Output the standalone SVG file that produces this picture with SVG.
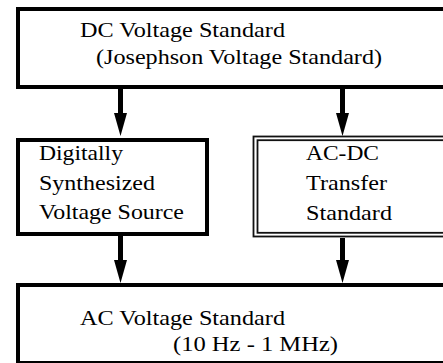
<svg xmlns="http://www.w3.org/2000/svg" width="443" height="363" viewBox="0 0 443 363">
<defs>
<marker id="ah" viewBox="0 0 23 13" refX="1" refY="6.5" markerWidth="23" markerHeight="13" markerUnits="userSpaceOnUse" orient="auto">
<path d="M0,0 L23,6.5 L0,13 z" fill="#000"/>
</marker>
<style>
.box{fill:#fff;stroke:#000;stroke-width:4}
.dbl{fill:none;stroke:#111;stroke-width:1.8}
.t{font-family:"Liberation Serif","Times New Roman",serif;font-size:21px;fill:#000}
.c{stroke:#000;stroke-width:5;fill:none;marker-end:url(#ah)}
</style>
</defs>
<rect width="443" height="363" fill="#fff"/>
<g id="dc-standard">
<rect class="box" x="18" y="9" width="460" height="78"/>
<text class="t" x="80" y="37" textLength="205" lengthAdjust="spacingAndGlyphs">DC Voltage Standard</text>
<text class="t" x="96" y="64" textLength="286" lengthAdjust="spacingAndGlyphs">(Josephson Voltage Standard)</text>
</g>
<g id="dsvs">
<rect class="box" x="18" y="140" width="189" height="94"/>
<text class="t" x="39" y="160" textLength="84" lengthAdjust="spacingAndGlyphs">Digitally</text>
<text class="t" x="39" y="190" textLength="116" lengthAdjust="spacingAndGlyphs">Synthesized</text>
<text class="t" x="39" y="219" textLength="145" lengthAdjust="spacingAndGlyphs">Voltage Source</text>
</g>
<g id="acdc-transfer">
<rect class="dbl" x="253.5" y="136.5" width="220" height="100"/>
<rect class="dbl" x="257.5" y="140.2" width="220" height="92.6"/>
<text class="t" x="306" y="160" textLength="73" lengthAdjust="spacingAndGlyphs">AC-DC</text>
<text class="t" x="306" y="190" textLength="81" lengthAdjust="spacingAndGlyphs">Transfer</text>
<text class="t" x="306" y="220" textLength="86" lengthAdjust="spacingAndGlyphs">Standard</text>
</g>
<g id="ac-standard">
<rect class="box" x="18" y="285" width="460" height="78"/>
<text class="t" x="80" y="325" textLength="205" lengthAdjust="spacingAndGlyphs">AC Voltage Standard</text>
<text class="t" x="173" y="351" textLength="165" lengthAdjust="spacingAndGlyphs">(10 Hz - 1 MHz)</text>
</g>
<g id="connectors">
<line class="c" x1="120.5" y1="89" x2="120.5" y2="114"/>
<line class="c" x1="342.5" y1="89" x2="342.5" y2="114"/>
<line class="c" x1="120.5" y1="236" x2="120.5" y2="261"/>
<line class="c" x1="342.5" y1="238" x2="342.5" y2="261"/>
</g>
</svg>
